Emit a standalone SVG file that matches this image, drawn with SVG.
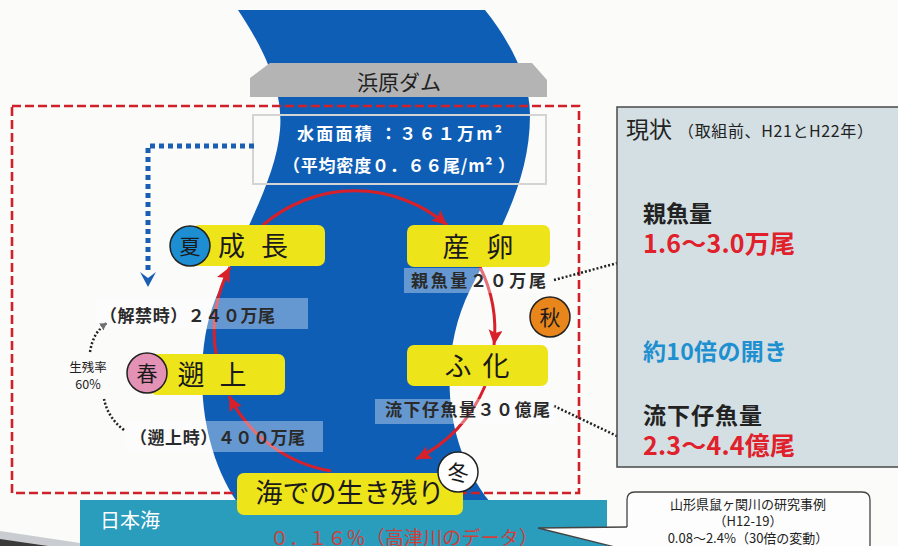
<svg xmlns="http://www.w3.org/2000/svg" width="898" height="546" viewBox="0 0 898 546">
  <style>
    text { font-family: "Noto Sans CJK JP", "Noto Sans", sans-serif; }
    .stage { fill: #eee41a; }
    .stage-t { font-size: 27px; fill: #1a1a1a; text-anchor: middle; }
    .season { stroke: #222; stroke-width: 1.5; }
    .season-t { font-size: 21px; fill: #1a1a1a; text-anchor: middle; }
    .cycle { fill: none; stroke: #d8202a; stroke-width: 3; marker-end: url(#redHead); }
    .count { font-size: 17px; font-weight: bold; fill: #2a2a2a; }
    .tint { fill: #ffffff; fill-opacity: 0.36; }
    .lead { fill: none; stroke: #222; stroke-width: 2.5; stroke-dasharray: 2 2; }
    .panel-h { font-size: 23px; font-weight: bold; fill: #222; }
    .panel-v { font-size: 25px; font-weight: bold; fill: #e0202a; }
    .note { font-size: 13px; fill: #222; text-anchor: middle; }
  </style>
  <defs>
    <marker id="redHead" markerUnits="userSpaceOnUse" markerWidth="18" markerHeight="16" refX="15" refY="7" orient="auto">
      <path d="M0,0 L15,7 L0,14 L3,7 Z" fill="#d8202a"/>
    </marker>
    <marker id="blackHead" markerUnits="userSpaceOnUse" markerWidth="10" markerHeight="10" refX="7" refY="4" orient="auto">
      <path d="M0,0 L7,4 L0,8 Z" fill="#222"/>
    </marker>
  </defs>

  <!-- paper -->
  <rect x="0" y="0" width="898" height="546" fill="#fbfbfa"/>
  <path d="M0,531 L80,543 L80,546 L0,546 Z" fill="#c9cdd2"/>
  <path d="M0,539 L48,546 L0,546 Z" fill="#3a3a3a"/>

  <!-- river -->
  <g id="river">
    <path d="M238,10 C258,40 284,85 280,130 C276,180 240,240 215,300 C195,350 195,440 237,502 L490,502 C440,440 440,350 470,290 C500,230 530,180 530,115 C530,75 505,35 485,10 Z" fill="#0f5eb6"/>
  </g>

  <!-- dam -->
  <g id="dam">
    <polygon points="270,63 532,63 547,80 547,97 250,97 250,78" fill="#b4b4b4"/>
    <text x="399" y="90" font-size="21" fill="#222" text-anchor="middle">浜原ダム</text>
  </g>

  <!-- sea -->
  <g id="sea">
    <rect x="80" y="500" width="527" height="46" fill="#2a9cbc"/>
    <text x="100" y="528" font-size="20" fill="#ffffff">日本海</text>
    <text x="270" y="545" font-size="19" fill="#d0403a" textLength="268">０．１６％（高津川のデータ）</text>
  </g>

  <!-- river section frame -->
  <rect x="12" y="106" width="567" height="387" fill="none" stroke="#d0202a" stroke-width="2.6" stroke-dasharray="9 4"/>

  <!-- reservoir info -->
  <g id="reservoir">
    <rect x="253" y="115" width="293" height="69" fill="none" stroke="#d4d4d4" stroke-width="2"/>
    <text x="297" y="140" font-size="17" font-weight="bold" fill="#ffffff" textLength="205">水面面積 ：３６１万m²</text>
    <text x="283" y="172" font-size="17" font-weight="bold" fill="#ffffff" textLength="232">（平均密度０．６６尾/m² ）</text>
  </g>

  <!-- connectors -->
  <g id="connectors">
    <path d="M254,146 H148 V272" fill="none" stroke="#1a5fb4" stroke-width="5" stroke-dasharray="5 4"/>
    <path d="M140,272 L148,287 L156,272 L148,278 Z" fill="#1a5fb4"/>
    <path class="cycle" d="M263,225 A141,141 0 0 1 447,225"/>
    <path class="cycle" d="M480,267 A141,141 0 0 1 494,345"/>
    <path class="cycle" d="M485,386 A141,141 0 0 1 416,459"/>
    <path class="cycle" d="M331,471 A141,141 0 0 1 229,396"/>
    <path class="cycle" d="M216,354 A141,141 0 0 1 230,267"/>
    <path class="lead" d="M124,430 Q108,418 104,399"/>
    <path class="lead" d="M90,352 Q93,332 107,323" marker-end="url(#blackHead)"/>
    <path class="lead" d="M554,280 L640,257"/>
    <path class="lead" d="M554,406 L640,447"/>
  </g>

  <!-- counts -->
  <g id="count-release">
    <rect class="tint" x="95" y="298" width="213" height="31"/>
    <text class="count" x="100" y="322" textLength="175">（解禁時）２４０万尾</text>
  </g>
  <g id="count-run">
    <rect class="tint" x="125" y="421" width="198" height="31"/>
    <text class="count" x="130" y="444" textLength="175">（遡上時）４００万尾</text>
  </g>
  <g id="count-parent">
    <rect class="tint" x="404" y="268" width="146" height="25"/>
    <text class="count" x="411" y="287" textLength="135">親魚量２０万尾</text>
  </g>
  <g id="count-fry">
    <rect class="tint" x="375" y="399" width="180" height="25"/>
    <text class="count" x="385" y="416" textLength="165">流下仔魚量３０億尾</text>
  </g>
  <g id="survival">
    <text x="88" y="372" font-size="12.5" fill="#222" text-anchor="middle">生残率</text>
    <text x="88" y="389" font-size="12.5" fill="#222" text-anchor="middle">60%</text>
  </g>

  <!-- life stages -->
  <g id="stage-growth">
    <rect class="stage" x="192" y="225" width="133" height="41" rx="7"/>
    <text class="stage-t" x="253" y="256" textLength="70">成 長</text>
    <circle class="season" cx="190" cy="246" r="20" fill="#1d8ed2"/>
    <text class="season-t" x="190" y="254">夏</text>
  </g>
  <g id="stage-spawn">
    <rect class="stage" x="407" y="225" width="143" height="42" rx="7"/>
    <text class="stage-t" x="478" y="257" textLength="71">産 卵</text>
  </g>
  <g id="stage-run">
    <rect class="stage" x="150" y="354" width="135" height="41" rx="7"/>
    <text class="stage-t" x="212" y="385" textLength="69">遡 上</text>
    <circle class="season" cx="147" cy="373" r="20" fill="#e391b5"/>
    <text class="season-t" x="147" y="381">春</text>
  </g>
  <g id="stage-hatch">
    <rect class="stage" x="407" y="345" width="141" height="41" rx="7"/>
    <text class="stage-t" x="477" y="376" textLength="65">ふ 化</text>
    <circle class="season" cx="550" cy="317" r="20" fill="#e8861c"/>
    <text class="season-t" x="550" y="325">秋</text>
  </g>
  <g id="stage-sea">
    <rect class="stage" x="237" y="473" width="226" height="42" rx="7"/>
    <text class="stage-t" x="350" y="503" font-size="26">海での生き残り</text>
    <circle class="season" cx="458" cy="472" r="20" fill="#ffffff"/>
    <text class="season-t" x="458" y="480">冬</text>
  </g>

  <!-- current state panel -->
  <g id="panel-current">
    <rect x="617" y="107" width="292" height="360" fill="#d3dfe3" stroke="#4a4a4a" stroke-width="1.5"/>
    <text x="626" y="138" font-size="23" fill="#222">現状</text>
    <text x="678" y="137" font-size="16" fill="#222" textLength="195">（取組前、H21とH22年）</text>
    <text class="panel-h" x="643" y="222">親魚量</text>
    <text class="panel-v" x="643" y="253" textLength="152">1.6～3.0万尾</text>
    <text x="643" y="360" font-size="23" font-weight="bold" fill="#1e8fd0" textLength="144">約10倍の開き</text>
    <text class="panel-h" x="643" y="424" textLength="119">流下仔魚量</text>
    <text class="panel-v" x="643" y="455" textLength="152">2.3～4.4億尾</text>
  </g>

  <!-- case study note -->
  <g id="note-case">
    <rect x="627" y="492" width="243" height="70" rx="8" fill="#fdfdfd"/>
    <path d="M627,527 V500 Q627,492 635,492 H862 Q870,492 870,500 V550" fill="none" stroke="#444" stroke-width="1.3"/>
    <path d="M627,527 L538,528 L627,550" fill="#fdfdfd" stroke="#444" stroke-width="1.3"/>
    <text class="note" x="748" y="509">山形県鼠ヶ関川の研究事例</text>
    <text class="note" x="748" y="526">（H12-19）</text>
    <text class="note" x="748" y="543">0.08～2.4%（30倍の変動）</text>
  </g>
</svg>
